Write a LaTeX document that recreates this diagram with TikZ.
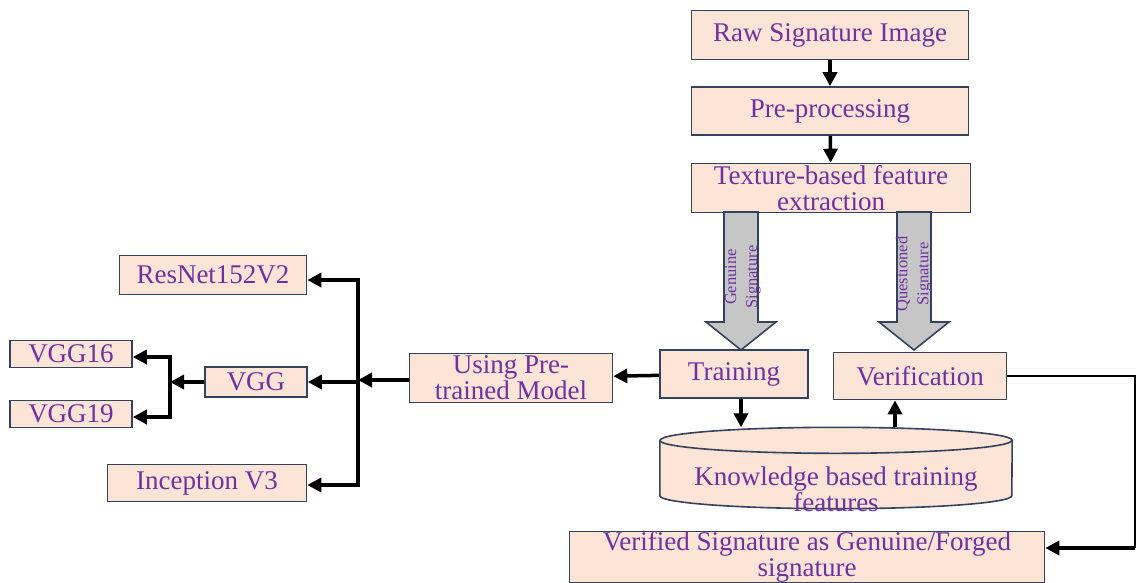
\documentclass[tikz,border=0pt]{standalone}
\usepackage{fontspec}
\setmainfont{Liberation Serif}
\usetikzlibrary{arrows.meta,calc}
\definecolor{boxfill}{HTML}{FCE4D6}
\definecolor{boxline}{HTML}{34425E}
\definecolor{txt}{HTML}{7030A0}

\begin{document}
\begin{tikzpicture}[x=1pt,y=-1pt,
  box/.style={draw=boxline, fill=boxfill, line width=1.6pt, text=txt, inner sep=0pt,
    align=center, font=\fontsize{27}{26}\selectfont},
  arr/.style={line width=3.5pt, -{Triangle[length=14pt,width=14pt]}},
  fat/.style={draw=boxline, fill=gray!45, line width=1.6pt},
  cyl/.style={draw=boxline, fill=boxfill, line width=1.6pt},
  sig/.style={text=txt, rotate=90, align=center, font=\fontsize{16.5}{21}\selectfont}]
\useasboundingbox (0,0) rectangle (1137,582);
% Pipeline on the right
\node[box, minimum width=277, minimum height=49] (raw) at (830,35) {Raw Signature Image};
\node[box, minimum width=277, minimum height=48] (pre) at (830,111) {Pre-processing};
\node[box, minimum width=279, minimum height=49] (tex) at (831,188) {Texture-based feature\\extraction};
\node[box, minimum width=148, minimum height=48] (train) at (734,374) {Training};
\node[box, minimum width=173, minimum height=47] (verif) at (920,376) {Verification};
\node[box, minimum width=475, minimum height=49] (verified) at (807,557)
  {Verified Signature as Genuine/Forged\\signature};
% Knowledge base drum
\node[minimum width=352, minimum height=81, inner sep=0pt] (kb) at (836,468) {};
\draw[cyl] ([yshift=-13pt]kb.north west) -- ([yshift=13pt]kb.south west)
  arc[start angle=180, end angle=360, x radius=176pt, y radius=13pt]
  -- ([yshift=-13pt]kb.north east)
  arc[start angle=0, end angle=180, x radius=176pt, y radius=13pt] -- cycle;
\draw[cyl] ([yshift=-13pt]kb.north west)
  arc[start angle=180, end angle=360, x radius=176pt, y radius=13pt];
\node[text=txt, align=center, font=\fontsize{27}{26}\selectfont] (kblab)
  at ([yshift=-21pt]kb.center) {Knowledge based training\\features};
% Models on the left
\node[box, minimum width=203, minimum height=49] (using) at (511,378) {Using Pre-\\trained Model};
\node[box, minimum width=187, minimum height=39] (resnet) at (213,275) {ResNet152V2};
\node[box, minimum width=102, minimum height=30] (vgg) at (256,382) {VGG};
\node[box, minimum width=199, minimum height=37] (incep) at (207,483) {Inception V3};
\node[box, minimum width=122, minimum height=27] (vgg16) at (71,354) {VGG16};
\node[box, minimum width=122, minimum height=27] (vgg19) at (71,414) {VGG19};
\coordinate (bus) at (358,380);
\coordinate (sub) at (170,382);
\coordinate (corner) at (1135,548);

% Wide arrows
\foreach \ax in {741,914}
  \draw[fat] (\ax-17,212) -- (\ax-17,322) -- (\ax-35,322) -- (\ax,350)
    -- (\ax+35,322) -- (\ax+17,322) -- (\ax+17,212) -- cycle;
\node[sig] (glab) at (743,277) {Genuine\\Signature};
\node[sig] (qlab) at (914,274) {Questioned\\Signature};

% Connectors
\draw[arr] (raw) -- (pre);
\draw[arr] (pre) -- (tex);
\draw[arr] (train) -- (using);
\draw[arr] ([xshift=7pt]train.south) -- ([xshift=7pt]train.south |- kb.north);
\draw[arr] ([xshift=-25pt]verif.south |- kb.north) -- ([xshift=-25pt]verif.south);
\draw[line width=2pt] (verif.east) -| (corner);
\draw[arr] (corner) -- (corner -| verified.east);
\draw[arr] (using.west |- bus) -- (bus);
\draw[arr] (bus) |- ([yshift=-5pt]resnet.east);
\draw[arr] (bus) |- (vgg.east);
\draw[arr] (bus) |- ([yshift=-2pt]incep.east);
\draw[arr] (vgg.west) -- (sub);
\draw[arr] (sub) |- ([yshift=-3pt]vgg16.east);
\draw[arr] (sub) |- ([yshift=-3pt]vgg19.east);
\end{tikzpicture}
\end{document}
